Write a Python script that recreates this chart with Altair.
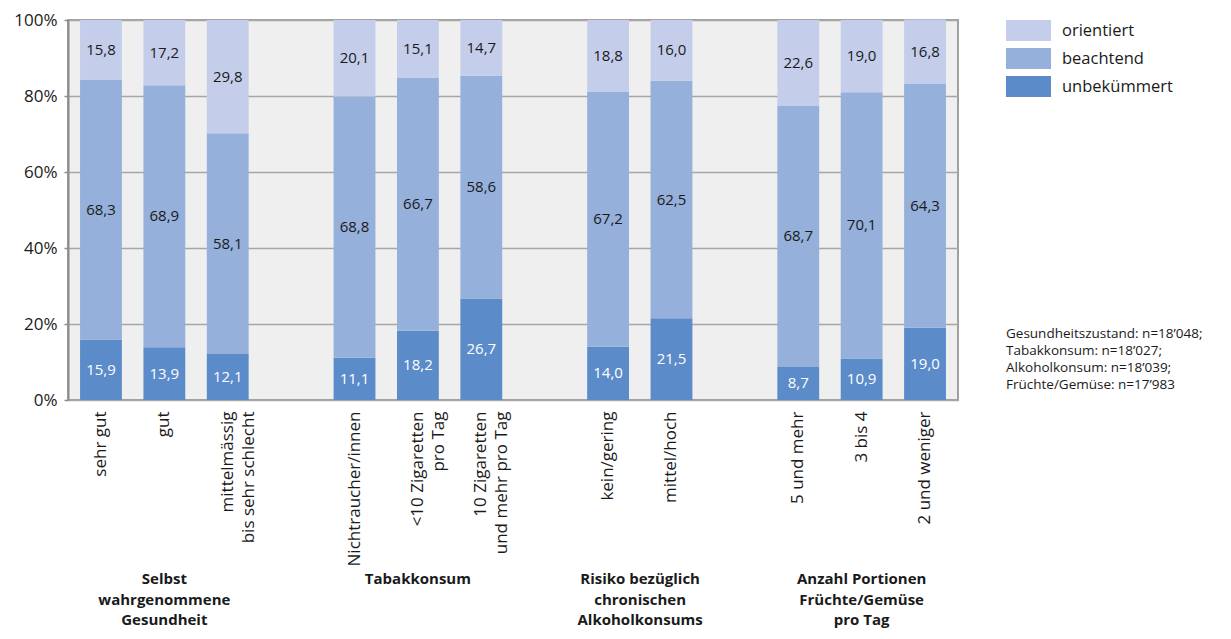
import altair as alt
import pandas as pd

# ---------------- data ----------------
categories = ["sehr gut", "gut", "mittelmässig|bis sehr schlecht", "_1",
              "Nichtraucher/innen", "<10 Zigaretten|pro Tag", "10 Zigaretten|und mehr pro Tag", "_2",
              "kein/gering", "mittel/hoch", "_3",
              "5 und mehr", "3 bis 4", "2 und weniger"]
bar_categories = [c for c in categories if not c.startswith("_")]

unbekuemmert = [15.9, 13.9, 12.1, 11.1, 18.2, 26.7, 14.0, 21.5, 8.7, 10.9, 19.0]
beachtend = [68.3, 68.9, 58.1, 68.8, 66.7, 58.6, 67.2, 62.5, 68.7, 70.1, 64.3]
orientiert = [15.8, 17.2, 29.8, 20.1, 15.1, 14.7, 18.8, 16.0, 22.6, 19.0, 16.8]

series = ["orientiert", "beachtend", "unbekümmert"]
colors = ["#C4CEEB", "#95B0DB", "#5B8BC9"]
text_colors = ["#1A1A1A", "#1A1A1A", "#FFFFFF"]

group_titles = ["Selbst\nwahrgenommene\nGesundheit", "Tabakkonsum",
                "Anzahl Portionen\nFrüchte/Gemüse\npro Tag"]
group_anchor = ["gut", "<10 Zigaretten|pro Tag", "3 bis 4"]
alk_title = "Risiko bezüglich\nchronischen\nAlkoholkonsums"
alk_anchor = "kein/gering"

note_text = "Gesundheitszustand: n=18’048;\nTabakkonsum: n=18’027;\nAlkoholkonsum: n=18’039;\nFrüchte/Gemüse: n=17’983"

FONT = "Open Sans"

# ---------------- table ----------------
rows = []
for i, cat in enumerate(bar_categories):
    base = 0.0
    for name, vals in (("unbekümmert", unbekuemmert), ("beachtend", beachtend), ("orientiert", orientiert)):
        v = vals[i]
        rows.append({
            "cat": cat, "serie": name, "v": v,
            "y0": base, "y1": base + v, "mid": base + v / 2,
            "label": f"{v:.1f}".replace(".", ","),
            "tcol": text_colors[series.index(name)],
        })
        base += v
df = pd.DataFrame(rows)

x_enc = alt.X(
    "cat:N",
    scale=alt.Scale(domain=categories, paddingInner=0.34, paddingOuter=0.19),
    axis=alt.Axis(
        title=None, labelAngle=270, labelAlign="right", labelBaseline="middle",
        labelPadding=11, ticks=False, domain=False, grid=False,
        labelFontSize=17, labelColor="#1A1A1A", labelLineHeight=21,
        labelOverlap=False, labelLimit=300, labelFont=FONT,
        labelExpr="indexof(datum.label, '_') == 0 ? '' : split(datum.label, '|')",
    ),
)

y_scale = alt.Scale(domain=[0, 100], nice=False)
y_axis = alt.Axis(
    title=None, values=[0, 20, 40, 60, 80, 100], labelExpr="datum.value + '%'",
    labelFontSize=17, labelColor="#1A1A1A", labelPadding=7, labelFont=FONT,
    tickSize=4, tickColor="#8C8C8C", tickWidth=1.5,
    domainColor="#8C8C8C", domainWidth=2,
    grid=True, gridColor="#A6A6A6", gridWidth=1.5,
)

legend_path = "M-2.1429,-1H2.1429V1H-2.1429Z"

bars = alt.Chart(df).mark_bar().encode(
    x=x_enc,
    y=alt.Y("y1:Q", scale=y_scale, axis=y_axis),
    y2="y0:Q",
    color=alt.Color(
        "serie:N",
        scale=alt.Scale(domain=series, range=colors),
        legend=alt.Legend(
            title=None, orient="none", legendX=950, legendY=0,
            symbolType=legend_path, symbolSize=441, symbolStrokeWidth=0,
            symbolOpacity=1, labelOffset=23, labelFontSize=16.5, labelFont=FONT,
            labelColor="#1A1A1A", rowPadding=7,
        ),
    ),
)

seg_text = alt.Chart(df).mark_text(fontSize=15, font=FONT, baseline="middle", align="center").encode(
    x=x_enc,
    y=alt.Y("mid:Q", scale=y_scale, axis=y_axis),
    text="label:N",
    color=alt.Color("tcol:N", scale=None),
)

titles_df = pd.DataFrame({"cat": group_anchor, "t": group_titles})
titles = alt.Chart(titles_df).mark_text(
    fontSize=15, font=FONT, fontWeight="bold", lineBreak="\n", lineHeight=20.5,
    baseline="top", align="center", color="#1A1A1A",
).encode(x=x_enc, y=alt.value(552), text="t:N")

alk_df = pd.DataFrame({"cat": [alk_anchor], "t": [alk_title]})
alk = alt.Chart(alk_df).mark_text(
    fontSize=15, font=FONT, fontWeight="bold", lineBreak="\n", lineHeight=20.5,
    baseline="top", align="center", color="#1A1A1A", dx=32,
).encode(x=x_enc, y=alt.value(552), text="t:N")

note_df = pd.DataFrame({"t": [note_text]})
notes = alt.Chart(note_df).mark_text(
    fontSize=13.5, font=FONT, lineBreak="\n", lineHeight=17,
    baseline="top", align="left", color="#1A1A1A",
).encode(x=alt.value(938), y=alt.value(307), text="t:N")

chart = alt.layer(bars, seg_text, titles, alk, notes).properties(
    width=890, height=380,
    padding={"left": 60, "top": 12, "right": 265, "bottom": 231},
    autosize=alt.AutoSizeParams(type="none"),
    background="white",
).configure(font=FONT).configure_view(fill="#EFEFEF", stroke="#A0A0A0", strokeWidth=2)

chart.save("out.html", embed_options={"renderer": "svg", "actions": False})
